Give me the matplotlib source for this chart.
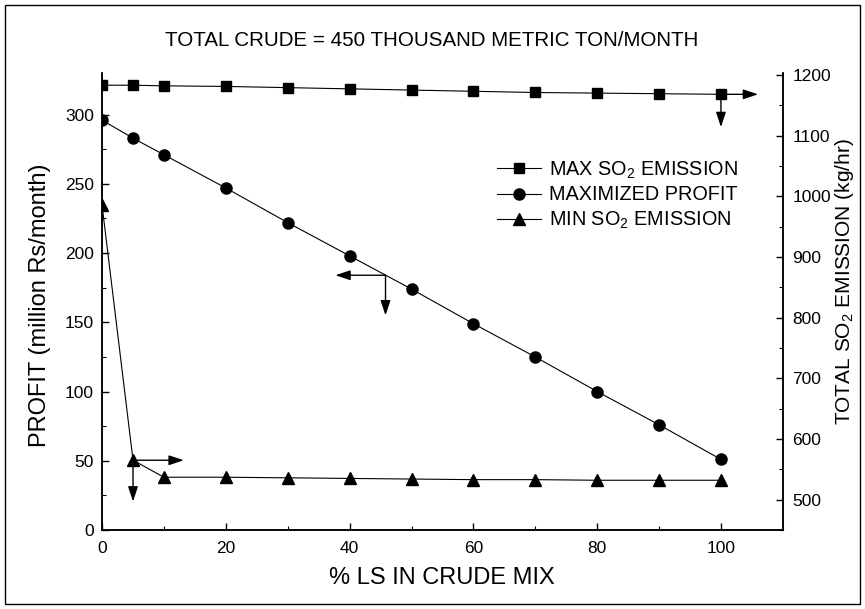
import numpy as np
import matplotlib.pyplot as plt
from matplotlib.patches import Rectangle

plt.rcParams['font.family'] = ['Liberation Sans', 'DejaVu Sans']
plt.rcParams['mathtext.default'] = 'regular'

# data
ls_pct = [0, 5, 10, 20, 30, 40, 50, 60, 70, 80, 90, 100]
max_so2 = [1183, 1183, 1182, 1181, 1179, 1177, 1175, 1173, 1171, 1170, 1169, 1168]
profit = [296, 283, 271, 247, 222, 198, 174, 149, 125, 100, 76, 51]
min_so2 = [985, 565, 537, 537, 536, 535, 534, 533, 533, 532, 532, 532]

title = "TOTAL CRUDE = 450 THOUSAND METRIC TON/MONTH"
xlabel = "% LS IN CRUDE MIX"
ylabel_left = "PROFIT (million Rs/month)"
ylabel_right = "TOTAL SO$_2$ EMISSION (kg/hr)"
leg_labels = ["MAX SO$_2$ EMISSION", "MAXIMIZED PROFIT", "MIN SO$_2$ EMISSION"]

fig = plt.figure(figsize=(8.65, 6.09), dpi=100)
ax = fig.add_axes([0.118, 0.1297, 0.787, 0.7503])
ax2 = ax.twinx()

lw = 0.8
l_prof, = ax.plot(ls_pct, profit, color='black', lw=lw, marker='o', ms=8)
l_max, = ax2.plot(ls_pct, max_so2, color='black', lw=lw, marker='s', ms=7.5)
l_min, = ax2.plot(ls_pct, min_so2, color='black', lw=lw, marker='^', ms=8)

ax.set_xlim(0, 110)
ax.set_ylim(0, 330)
ax2.set_ylim(450, 1203)

ax.set_xticks(np.arange(0, 101, 20))
ax.set_xticks(np.arange(10, 111, 10), minor=True)
ax.set_yticks(np.arange(0, 301, 50))
ax.set_yticks(np.arange(25, 330, 25), minor=True)
ax2.set_yticks(np.arange(500, 1201, 100))
ax2.set_yticks(np.arange(450, 1203, 50), minor=True)

for a in (ax, ax2):
    a.spines['top'].set_visible(False)
    for s in a.spines.values():
        s.set_linewidth(1.1)
ax.tick_params(axis='both', which='both', direction='in', labelsize=12.5, top=False, right=False)
ax.tick_params(axis='both', which='major', length=5, width=1)
ax.tick_params(axis='both', which='minor', length=3, width=0.8)
ax.tick_params(axis='x', pad=8)
ax.tick_params(axis='y', pad=6)
ax2.tick_params(axis='y', which='both', direction='in', labelsize=12.5, left=False, pad=7)
ax2.tick_params(axis='y', which='major', length=5, width=1)
ax2.tick_params(axis='y', which='minor', length=3, width=0.8)

# arrows showing which axis each curve belongs to
ap = dict(arrowstyle='-|>,head_length=0.9,head_width=0.3', color='black', lw=1.0,
          mutation_scale=10, shrinkA=0, shrinkB=0)
ax2.annotate('', xy=(106, 1168), xytext=(100, 1168), arrowprops=ap)
ax2.annotate('', xy=(100, 1114), xytext=(100, 1168), arrowprops=ap)
ax.annotate('', xy=(37.7, 184), xytext=(45.8, 184), arrowprops=ap)
ax.annotate('', xy=(45.8, 155), xytext=(45.8, 184), arrowprops=ap)
ax2.annotate('', xy=(13.2, 565), xytext=(5, 565), arrowprops=ap)
ax2.annotate('', xy=(5, 497), xytext=(5, 565), arrowprops=ap)

ax2.legend([l_max, l_prof, l_min], leg_labels, loc='center left',
           bbox_to_anchor=(497 / 865, 1 - 195 / 609), bbox_transform=fig.transFigure,
           frameon=False, fontsize=14.3, handlelength=2.2, handletextpad=0.4,
           labelspacing=0.25, borderpad=0, borderaxespad=0)

fig.text(432 / 865, 1 - 40 / 609, title, ha='center', va='center', fontsize=14.8)
fig.text(442 / 865, 1 - 578 / 609, xlabel, ha='center', va='center', fontsize=17)
fig.text(40 / 865, 1 - 305 / 609, ylabel_left, ha='center', va='center', rotation=90, fontsize=17)
fig.text(845 / 865, 1 - 282 / 609, ylabel_right, ha='center', va='center', rotation=90, fontsize=15)

fig.patches.append(Rectangle((0.006, 0.008), 0.988, 0.984, transform=fig.transFigure,
                             fill=False, edgecolor='black', lw=1.0))

plt.savefig('out.png', dpi=100)
